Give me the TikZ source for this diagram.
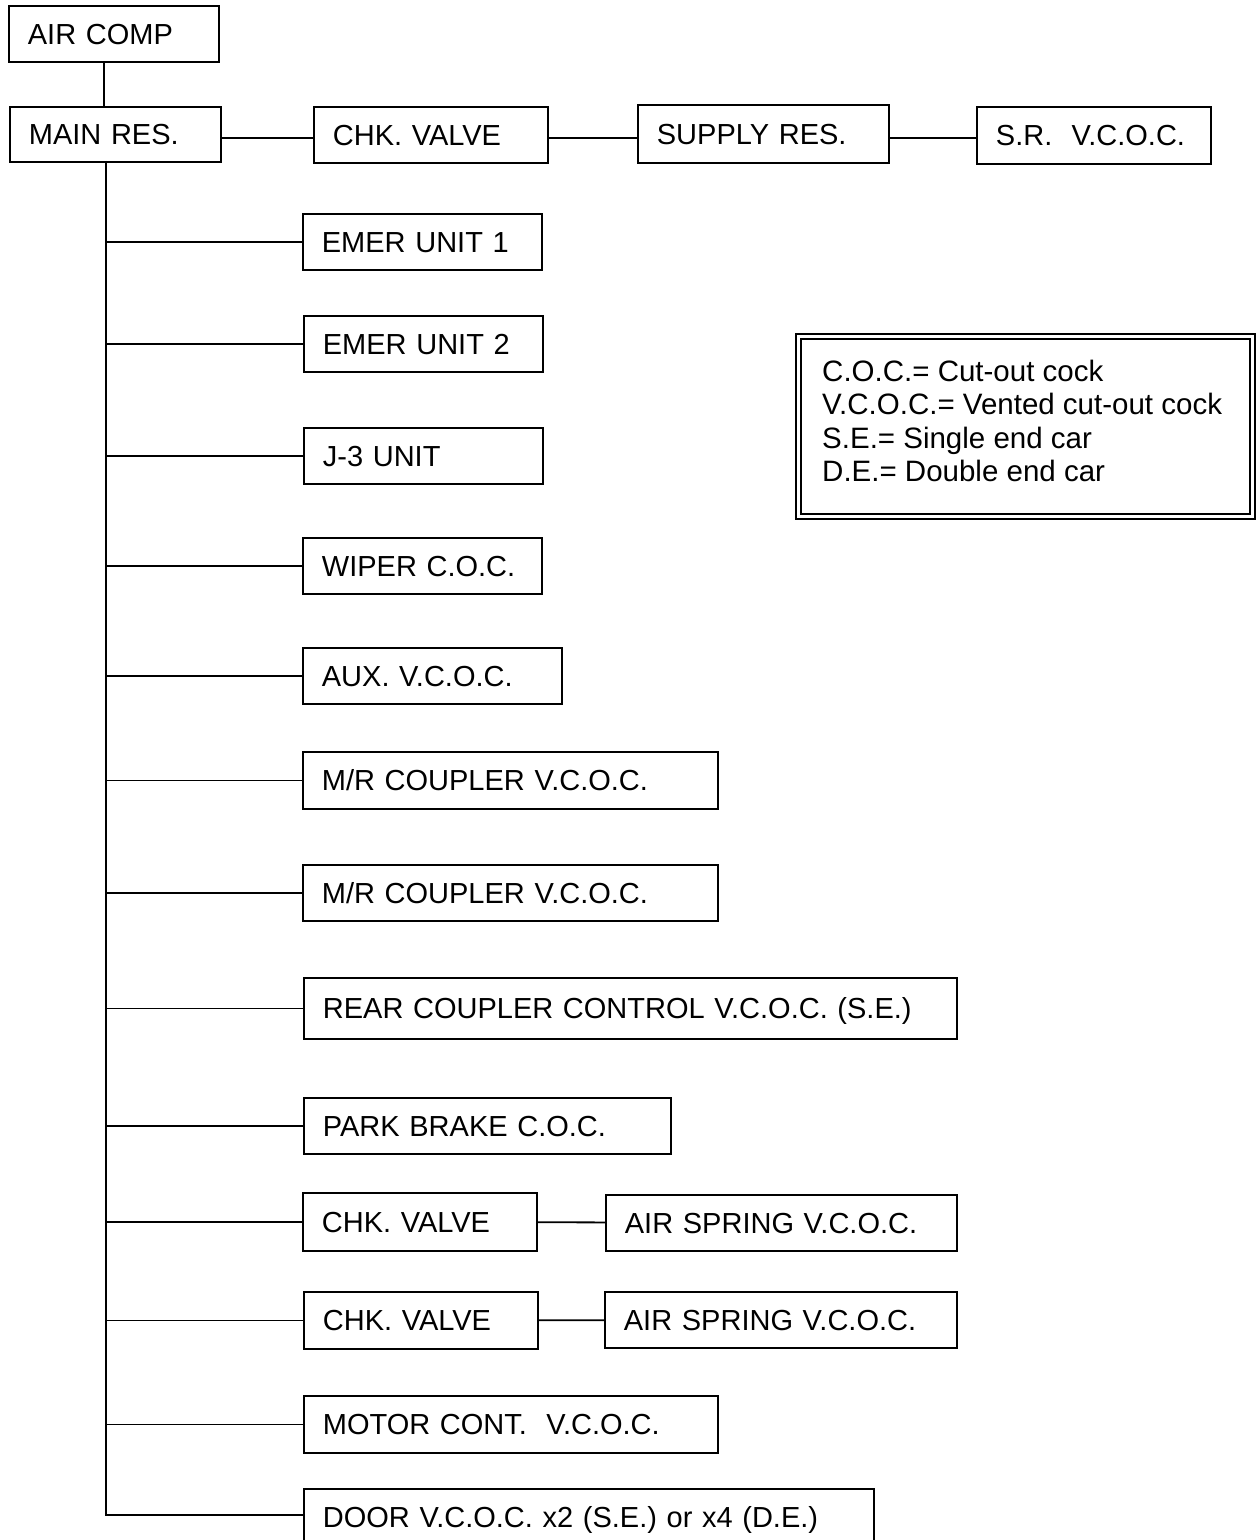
\documentclass[tikz,border=0pt]{standalone}
\usepackage{fontspec}
\setmainfont{Liberation Sans}
\begin{document}
\begin{tikzpicture}[x=1pt,y=-1pt,
  box/.style={draw, line width=1.8pt, anchor=north west, inner xsep=19pt, inner ysep=0pt,
    align=left, text height=21pt, text depth=0pt, font=\fontsize{29}{34}\selectfont},
  wire/.style={line width=1.8pt}]
\newcommand\bx[6]{%
  \pgfmathsetmacro\bxw{#4-#2}\pgfmathsetmacro\bxh{#5-#3}\pgfmathsetmacro\bxt{#4-#2-38}%
  \node[box, minimum width=\bxw pt, minimum height=\bxh pt, text width=\bxt pt] (#1) at (#2,#3) {#6};}
\clip (0,0) rectangle (1257,1540);
\fill[white] (0,0) rectangle (1257,1540);
% top row
\bx{aircomp}{8}{5}{218}{61}{AIR COMP}
\bx{mainres}{9}{106}{220}{161}{MAIN RES.}
\bx{chk0}{313}{106}{547}{162}{CHK. VALVE}
\bx{supply}{637}{104}{888}{162}{SUPPLY RES.}
\bx{srv}{976}{106}{1210}{163}{S.R.\ \ V.C.O.C.}
% branches
\bx{e1}{302}{213}{541}{269}{EMER UNIT 1}
\bx{e2}{303}{315}{542}{371}{EMER UNIT 2}
\bx{j3}{303}{427}{542}{483}{J-3 UNIT}
\bx{wiper}{302}{537}{541}{593}{WIPER C.O.C.}
\bx{aux}{302}{647}{561}{703}{AUX. V.C.O.C.}
\bx{mr1}{302}{751}{717}{808}{M/R COUPLER V.C.O.C.}
\bx{mr2}{302}{864}{717}{920}{M/R COUPLER V.C.O.C.}
\bx{rear}{303}{977}{956}{1038}{REAR COUPLER CONTROL V.C.O.C. (S.E.)}
\bx{park}{303}{1097}{670}{1153}{PARK BRAKE C.O.C.}
\bx{chk1}{302}{1192}{536}{1250}{CHK. VALVE}
\bx{as1}{605}{1194}{956}{1250}{AIR SPRING V.C.O.C.}
\bx{chk2}{303}{1291}{537}{1348}{CHK. VALVE}
\bx{as2}{604}{1291}{956}{1347}{AIR SPRING V.C.O.C.}
\bx{motor}{303}{1395}{717}{1452}{MOTOR CONT.\ \ V.C.O.C.}
\bx{door}{303}{1488}{873}{1544}{DOOR V.C.O.C. x2 (S.E.) or x4 (D.E.)}
% connectors
\coordinate (ta) at (104,0);
\coordinate (hy) at (0,138);
\coordinate (tend) at (106,1515);
\draw[wire] (aircomp.south -| ta) -- (mainres.north -| ta);
\draw[wire] (mainres.east |- hy) -- (chk0.west |- hy);
\draw[wire] (chk0.east |- hy) -- (supply.west |- hy);
\draw[wire] (supply.east |- hy) -- (srv.west |- hy);
\draw[wire] ([yshift=2pt]mainres.south -| tend) -- (tend) -- (door.west |- tend);
\foreach \n in {e1,e2,j3,wiper,aux,mr1,mr2,rear,park,chk1,chk2,motor}
  \draw[wire] (\n.west -| tend) -- (\n.west);
\draw[wire] (chk1) -- (as1);
\draw[wire] (chk2) -- (as2);
% legend
\node[anchor=north west, inner sep=0pt, align=left, font=\fontsize{29.5}{33.3}\selectfont] (legend) at (822,360)
  {C.O.C.= Cut-out cock\\V.C.O.C.= Vented cut-out cock\\S.E.= Single end car\\D.E.= Double end car};
\coordinate (lgA) at (796,334);
\coordinate (lgB) at (1255,519);
\coordinate (lgC) at (801,339);
\coordinate (lgD) at (1250,514);
\draw[line width=1.8pt] (lgA) rectangle (lgB);
\draw[line width=1.8pt] (lgC) rectangle (lgD);
\end{tikzpicture}
\end{document}
